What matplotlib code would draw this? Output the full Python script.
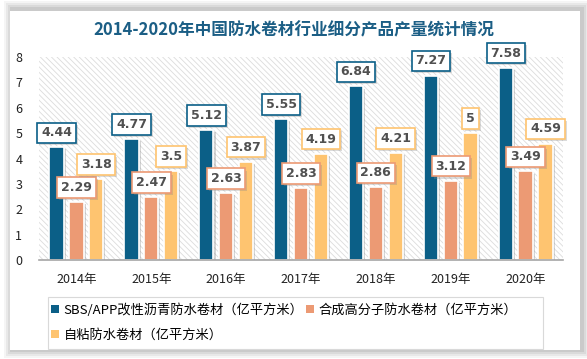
import matplotlib.pyplot as plt
import numpy as np
from matplotlib.patches import Rectangle, Patch
import matplotlib.patheffects as pe

plt.rcParams['font.family'] = ['Noto Sans CJK SC', 'DejaVu Sans']
plt.rcParams['hatch.linewidth'] = 0.6

years = ['2014年', '2015年', '2016年', '2017年', '2018年', '2019年', '2020年']
sbs = [4.44, 4.77, 5.12, 5.55, 6.84, 7.27, 7.58]
polymer = [2.29, 2.47, 2.63, 2.83, 2.86, 3.12, 3.49]
selfadh = [3.18, 3.5, 3.87, 4.19, 4.21, 5, 4.59]
names = ['SBS/APP改性沥青防水卷材（亿平方米）', '合成高分子防水卷材（亿平方米）', '自粘防水卷材（亿平方米）']
colors = ['#0B5F87', '#EC9A74', '#FEC470']

fig = plt.figure(figsize=(5.87, 3.59), dpi=100)
fig.patch.set_facecolor('white')

# card with soft shadow
for i, a in enumerate([0.04, 0.05, 0.06, 0.07]):
    d = (4 - i) * 2
    fig.patches.append(Rectangle(((10 - d + 2) / 587, (9 - d) / 359), (570 + 2 * d) / 587,
                                 (341 + 2 * d) / 359, transform=fig.transFigure,
                                 facecolor='black', edgecolor='none', alpha=a, zorder=0))
fig.patches.append(Rectangle((10 / 587, 9 / 359), 570 / 587, 339 / 359, transform=fig.transFigure,
                             facecolor='white', edgecolor='none', zorder=1))

ax = fig.add_axes([39 / 587, 1 - 260 / 359, 524 / 587, 203 / 359])
ax.set_zorder(3)
ax.set_facecolor('white')
ax.add_patch(Rectangle((0, 0), 1, 1, transform=ax.transAxes, facecolor='white',
                       edgecolor='#dcdcdc', hatch='\\\\\\\\\\\\', linewidth=0, zorder=0))

x = np.arange(len(years))
w = 0.19
off = 0.265
shadow = [pe.SimplePatchShadow(offset=(1.5, -1.5), shadow_rgbFace='#888888', alpha=0.35), pe.Normal()]
for k, vals in enumerate([sbs, polymer, selfadh]):
    bars = ax.bar(x + (k - 1) * off, vals, w, color=colors[k], edgecolor='white',
                  linewidth=1.2, zorder=2)
    for b in bars:
        b.set_path_effects(shadow)
    for xi, v in zip(x + (k - 1) * off, vals):
        t = ax.annotate(f'{v:g}', (xi, v), xytext=(0, 10.5), textcoords='offset points',
                        ha='center', va='center', fontsize=9, fontweight='bold', color='#505050',
                        family='DejaVu Sans', zorder=5,
                        bbox=dict(boxstyle='square,pad=0.3', facecolor='white',
                                  edgecolor=colors[k], linewidth=1.2))
        t.get_bbox_patch().set_path_effects(
            [pe.SimplePatchShadow(offset=(1.5, -1.5), shadow_rgbFace='#888888', alpha=0.3), pe.Normal()])

ax.set_xlim(-0.5, len(years) - 0.5)
ax.set_ylim(0, 8)
ax.set_yticks(range(9))
ax.set_xticks(x)
ax.set_xticklabels(years)
ax.tick_params(axis='both', length=0, labelsize=9, colors='#222222')
ax.tick_params(axis='x', pad=9)
ax.tick_params(axis='y', pad=12)
for s in ['top', 'right', 'left']:
    ax.spines[s].set_visible(False)
ax.spines['bottom'].set_color('#a6a6a6')
ax.spines['bottom'].set_linewidth(1.2)
ax.spines['bottom'].set_zorder(3)

fig.text(0.5, 1 - 30 / 359, '2014-2020年中国防水卷材行业细分产品产量统计情况', ha='center', va='center',
         fontsize=12, fontweight='bold', color='#1B5E85')

# legend
fig.patches.append(Rectangle((48 / 587, 1 - 349 / 359), 495 / 587, 52 / 359, transform=fig.transFigure,
                             facecolor='white', edgecolor='#d9d9d9', linewidth=0.8, zorder=2))
handles = [Patch(facecolor=c) for c in colors]
order = [0, 2, 1]
leg = fig.legend([handles[i] for i in order], [names[i] for i in order], ncol=2,
                 loc='upper left', bbox_to_anchor=(46 / 587, 1 - 298 / 359), frameon=False,
                 fontsize=9.5, handlelength=0.55, handleheight=0.55, handletextpad=0.4,
                 columnspacing=0.2, labelspacing=0.9, borderaxespad=0)
leg.set_zorder(4)

fig.savefig('out.png', dpi=100, facecolor=fig.get_facecolor())
